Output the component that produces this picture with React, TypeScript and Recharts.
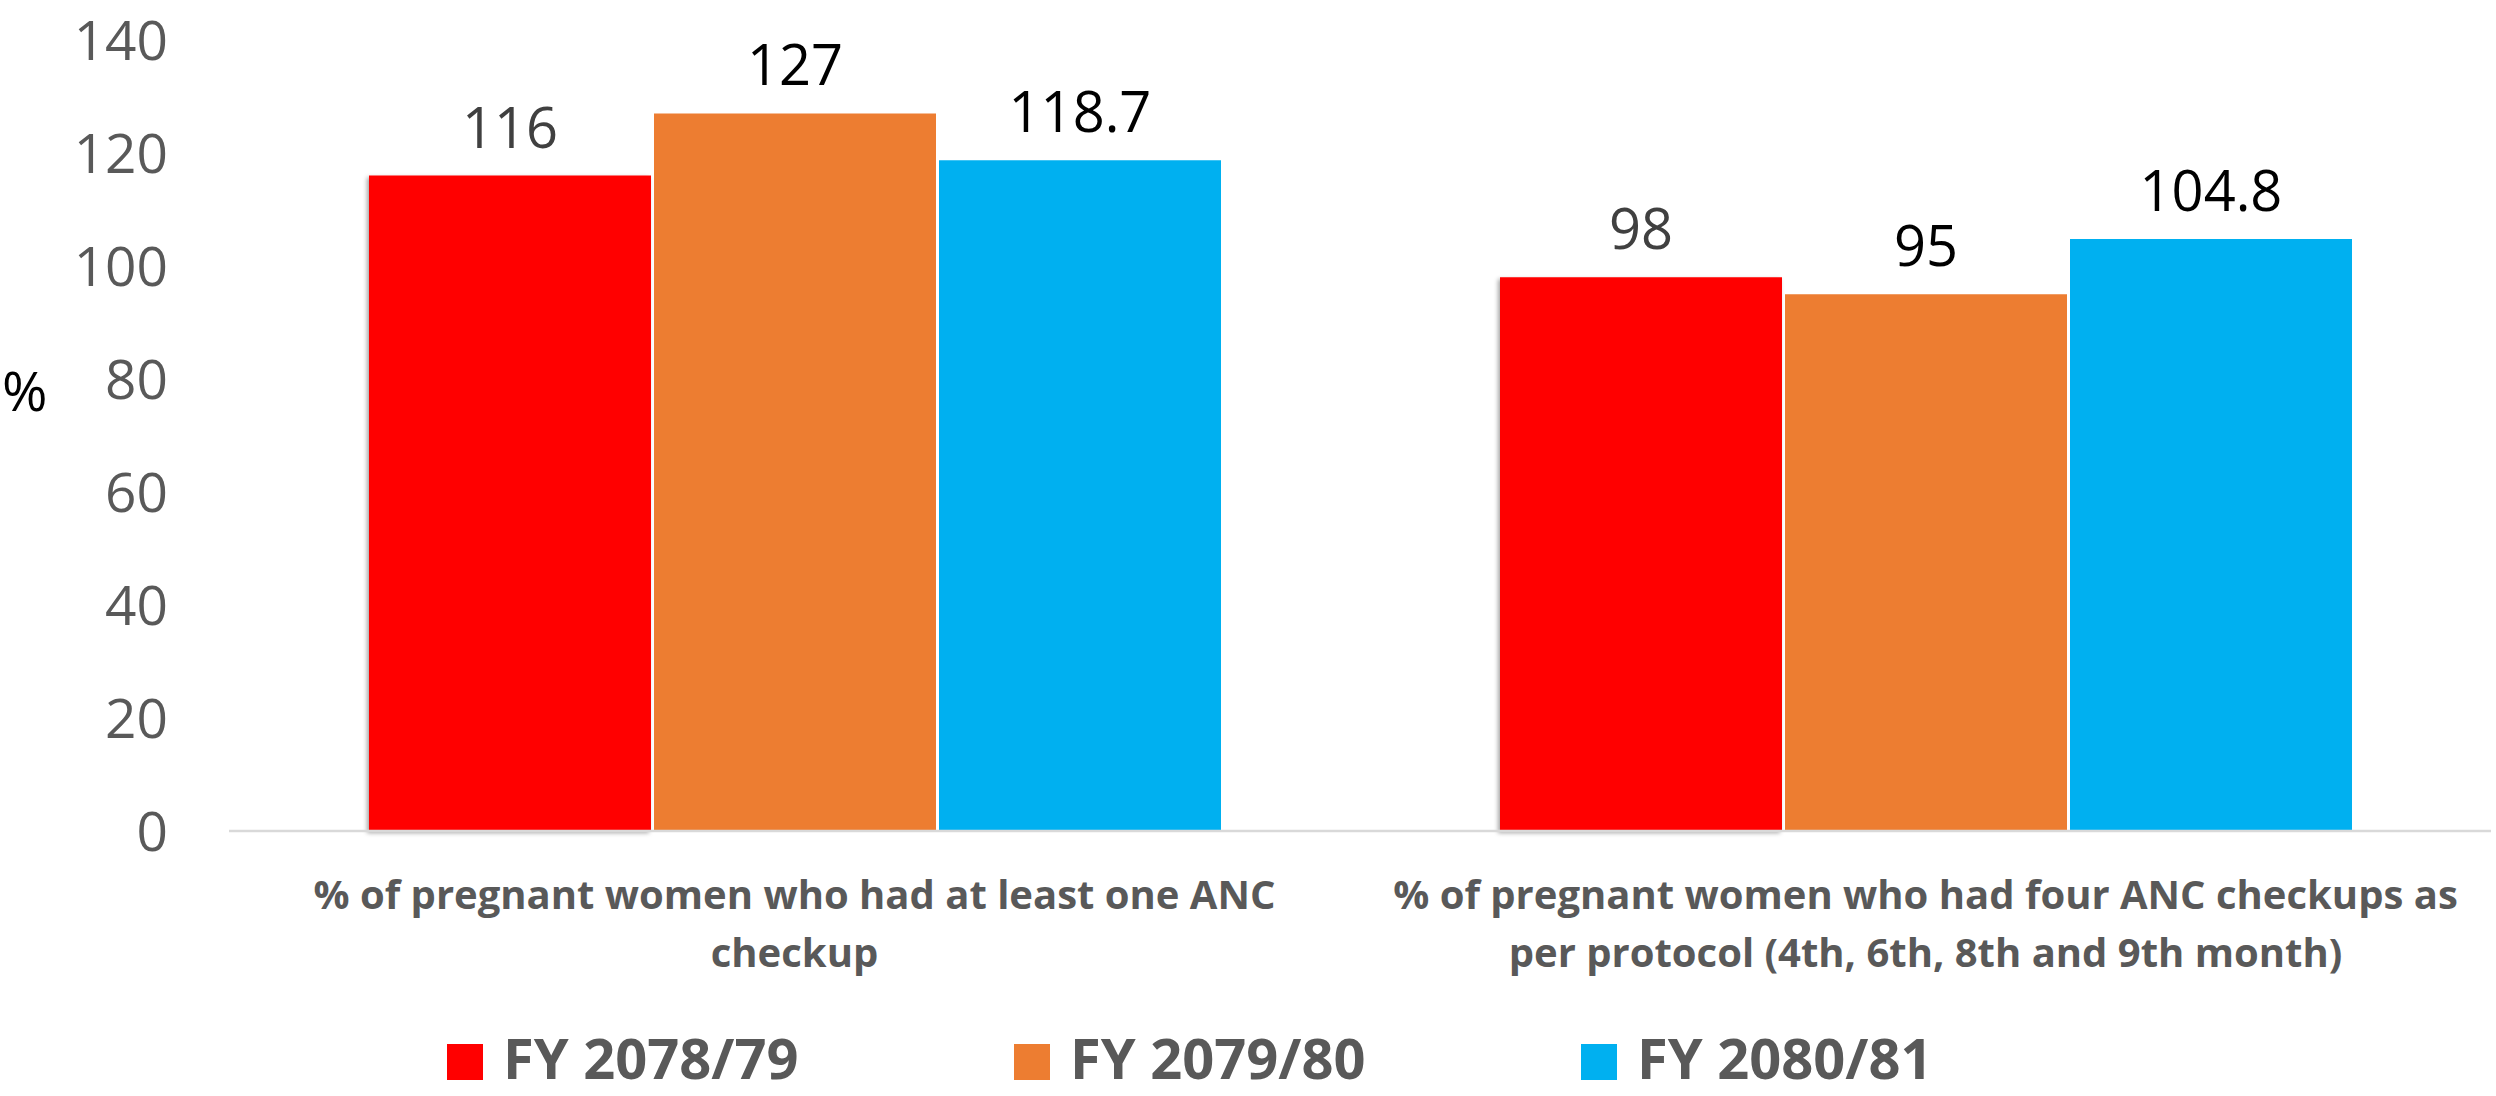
import React from 'react';
import { BarChart, Bar, XAxis, YAxis, Legend, LabelList, Rectangle } from 'recharts';

const categories = ['anc1', 'anc4'];
const categoryLines = [
  ['% of pregnant women who had at least one ANC', 'checkup'],
  ['% of pregnant women who had four ANC checkups as', 'per protocol (4th, 6th, 8th and 9th month)'],
];
const seriesNames = ['FY 2078/79', 'FY 2079/80', 'FY 2080/81'];
const seriesColors = ['#FF0000', '#ED7D31', '#00B0F0'];
const labelColors = ['#404040', '#000000', '#000000'];
const fy7879 = [116, 98];
const fy7980 = [127, 95];
const fy8081 = [118.7, 104.8];
const yTicks = [0, 20, 40, 60, 80, 100, 120, 140];

const data = categories.map((c, i) => ({
  category: c,
  s0: fy7879[i],
  s1: fy7980[i],
  s2: fy8081[i],
}));

const FONT = '"Open Sans", sans-serif';

const CategoryTick = (props: any) => {
  const { x, y, index } = props;
  const lines = categoryLines[index] || [];
  return (
    <g>
      {lines.map((ln: string, i: number) => (
        <text
          key={i}
          x={x}
          y={y + 78 + i * 58}
          textAnchor="middle"
          fill="#595959"
          fontFamily={FONT}
          fontWeight={700}
          fontSize={40}
        >
          {ln}
        </text>
      ))}
    </g>
  );
};

const LegendContent = (props: any) => {
  const payload = props.payload || [];
  return (
    <div style={{ display: 'flex', flexDirection: 'row', paddingLeft: 447, alignItems: 'flex-start', height: 76 }}>
      {payload.map((p: any, i: number) => (
        <div key={i} style={{ width: 567, display: 'flex', alignItems: 'flex-start' }}>
          <div style={{ width: 36, height: 36, background: p.color, marginRight: 20, marginTop: 25, flexShrink: 0 }} />
          <span
            style={{
              fontFamily: FONT,
              fontWeight: 700,
              fontSize: 56,
              color: '#595959',
              whiteSpace: 'nowrap',
            }}
          >
            {p.value}
          </span>
        </div>
      ))}
    </div>
  );
};

const ShadowBar = (props: any) => <Rectangle {...props} filter="url(#barShadow)" />;

export default function App() {
  return (
    <div style={{ position: 'absolute', left: 0, top: 0, width: 2496, height: 1096, background: '#fff' }}>
      <BarChart
        width={2496}
        height={1096}
        data={data}
        margin={{ top: 40, right: 5, bottom: 115, left: 0 }}
        barCategoryGap={140}
        barGap={3}
      >
        <defs>
          <filter id="barShadow" x="-10%" y="-10%" width="120%" height="120%">
            <feDropShadow dx="-2" dy="2" stdDeviation="2" floodColor="#000" floodOpacity="0.35" />
          </filter>
        </defs>
        <XAxis
          dataKey="category"
          tick={<CategoryTick />}
          tickLine={false}
          tickSize={0}
          tickMargin={0}
          height={150}
          axisLine={{ stroke: '#D9D9D9', strokeWidth: 2.5 }}
          interval={0}
        />
        <YAxis
          domain={[0, 140]}
          ticks={yTicks}
          width={229}
          axisLine={false}
          tickLine={false}
          tickSize={0}
          tickMargin={61}
          tick={{ fill: '#595959', fontSize: 55, fontFamily: FONT }}
          label={{ value: '%', position: 'insideLeft', offset: 2, dy: -44, fill: '#000', fontSize: 55, fontFamily: FONT }}
        />
        <Legend
          verticalAlign="middle"
          layout="horizontal"
          content={<LegendContent />}
          wrapperStyle={{ left: 0, top: 1019, width: 2496, height: 76 }}
        />
        {seriesNames.map((name, si) => (
          <Bar
            key={name}
            dataKey={`s${si}`}
            name={name}
            fill={seriesColors[si]}
            isAnimationActive={false}
            shape={si === 0 ? <ShadowBar /> : undefined}
          >
            <LabelList
              dataKey={`s${si}`}
              position="top"
              offset={28}
              fill={labelColors[si]}
              fontSize={56}
              fontFamily={FONT}
            />
          </Bar>
        ))}
      </BarChart>
    </div>
  );
}
